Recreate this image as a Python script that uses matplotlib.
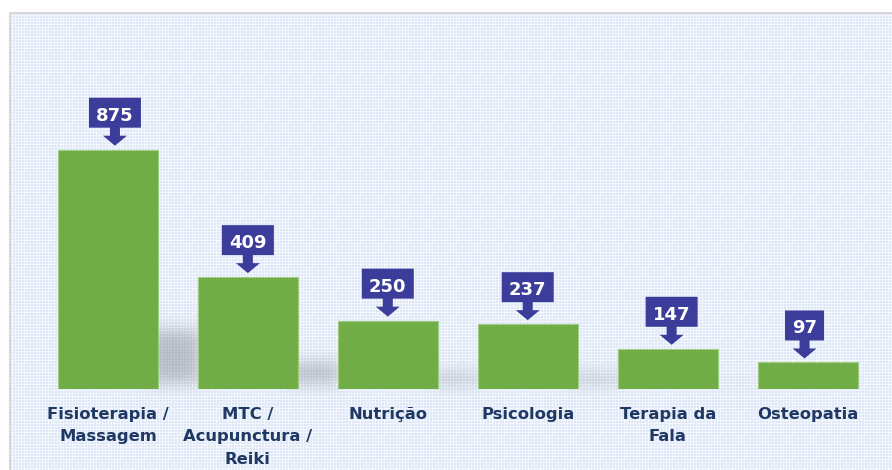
import numpy as np
import matplotlib
matplotlib.use("Agg")
import matplotlib.pyplot as plt
import matplotlib.transforms as mtransforms
from matplotlib.patches import Polygon

# ---- data ----
categories = ["Fisioterapia /\nMassagem", "MTC /\nAcupunctura /\nReiki", "Nutrição",
              "Psicologia", "Terapia da\nFala", "Osteopatia"]
values = [875, 409, 250, 237, 147, 97]
value_labels = [str(v) for v in values]

# small horizontal nudges of the callouts (pixels), as in the reference
callout_nudge_px = [7, 0, 0, 0, 4, -3]

W, H, DPI = 892, 470, 100
BAR_GREEN = "#70AD47"
CALLOUT = "#3C3C9A"
LABEL_COLOR = "#1F3864"

fig = plt.figure(figsize=(W / DPI, H / DPI), dpi=DPI)
fig.patch.set_facecolor("white")

# main axes geometry (pixels)
left_px, right_px = 38.0, 877.5
base_px, top_px = 389.0, 30.0
px_per_unit = 0.2735

ax = fig.add_axes([left_px / W, (H - base_px) / H, (right_px - left_px) / W,
                   (base_px - top_px) / H], zorder=2)
ax.set_xlim(-0.5, len(values) - 0.5)
ax.set_ylim(0, (base_px - top_px) / px_per_unit)
ax.patch.set_visible(False)
for s in ax.spines.values():
    s.set_visible(False)
ax.set_yticks([])

x = np.arange(len(values))
bar_w = 100 / ((right_px - left_px) / len(values))
bars = ax.bar(x, values, width=bar_w, color=BAR_GREEN, edgecolor="#9FCC80",
              linewidth=0.8, zorder=3)

ax.set_xticks(x)
ax.set_xticklabels(categories, fontsize=11.8, fontweight="bold", color=LABEL_COLOR,
                   family="DejaVu Sans", linespacing=1.62, va="top")
ax.tick_params(axis="x", length=0, pad=13.0)

# ---- background pattern + shadows (pixel image) ----
ii, jj = np.mgrid[0:H, 0:W]
img = np.zeros((H, W, 3))
img[:] = np.array([222, 232, 246]) / 255
light = (ii % 3 == 0) | (jj % 3 == 0)
img[light] = np.array([238, 243, 251]) / 255
img[(ii % 3 == 0) & (jj % 3 == 0)] = np.array([250, 252, 255]) / 255
big = ((ii % 12 == 0) & (jj % 12 < 2)) | ((jj % 12 == 0) & (ii % 12 < 2))
img[big] = 1.0

# shadows derived from bar geometry
mask = np.zeros((H, W))
for rect in bars:
    (x0, y0), (x1, y1) = ax.transData.transform(
        [(rect.get_x(), 0), (rect.get_x() + rect.get_width(), rect.get_height())])
    r0, r1 = H - y1, H - y0  # top row, bottom row
    hgt = r1 - r0
    top = int(round(r1 - 0.26 * hgt + 3))
    bot = int(round(r1 - 6))
    xl = int(round(x1 - 10))
    xr = int(round(x1 + 42))
    if bot > top:
        mask[top:bot, xl:xr] = 1.0

sig = 8.0
k = np.arange(-3 * int(sig), 3 * int(sig) + 1)
kern = np.exp(-0.5 * (k / sig) ** 2)
kern /= kern.sum()
mask = np.apply_along_axis(lambda r: np.convolve(r, kern, mode="same"), 1, mask)
mask = np.apply_along_axis(lambda c: np.convolve(c, kern, mode="same"), 0, mask)
alpha = 0.38 * mask[..., None]
shadow_col = np.array([110, 112, 122]) / 255
img = img * (1 - alpha) + shadow_col * alpha

# white margin and gray frame
img[:12, :, :] = 1.0
img[:, :9, :] = 1.0
img[12:14, 9:, :] = np.array([215, 215, 215]) / 255
img[12:, 9:11, :] = np.array([215, 215, 215]) / 255

bg = fig.add_axes([0, 0, 1, 1], zorder=0)
bg.imshow(img, extent=(0, W, 0, H), aspect="auto", interpolation="nearest")
bg.set_axis_off()

# ---- callouts ----
px = mtransforms.Affine2D().scale(1.0 / DPI) + fig.dpi_scale_trans
for xi, v, lab, nudge in zip(x, values, value_labels, callout_nudge_px):
    tr = px + mtransforms.ScaledTranslation(xi, v, ax.transData)
    gap = 4
    hw = 6.5 * len(lab) + 6.5
    verts = [(nudge, gap), (nudge + 12, gap + 10), (nudge + 5, gap + 10),
             (nudge + 5, gap + 18), (nudge + hw, gap + 18), (nudge + hw, gap + 48),
             (nudge - hw, gap + 48), (nudge - hw, gap + 18), (nudge - 5, gap + 18),
             (nudge - 5, gap + 10), (nudge - 12, gap + 10)]
    ax.add_patch(Polygon(verts, closed=True, facecolor=CALLOUT, edgecolor="none",
                         transform=tr, zorder=5, clip_on=False))
    ax.text(nudge, gap + 25, lab, transform=tr, ha="center", va="baseline",
            fontsize=13, fontweight="bold", color="white", family="DejaVu Sans",
            zorder=6, clip_on=False)

fig.savefig("out.png", dpi=DPI)
